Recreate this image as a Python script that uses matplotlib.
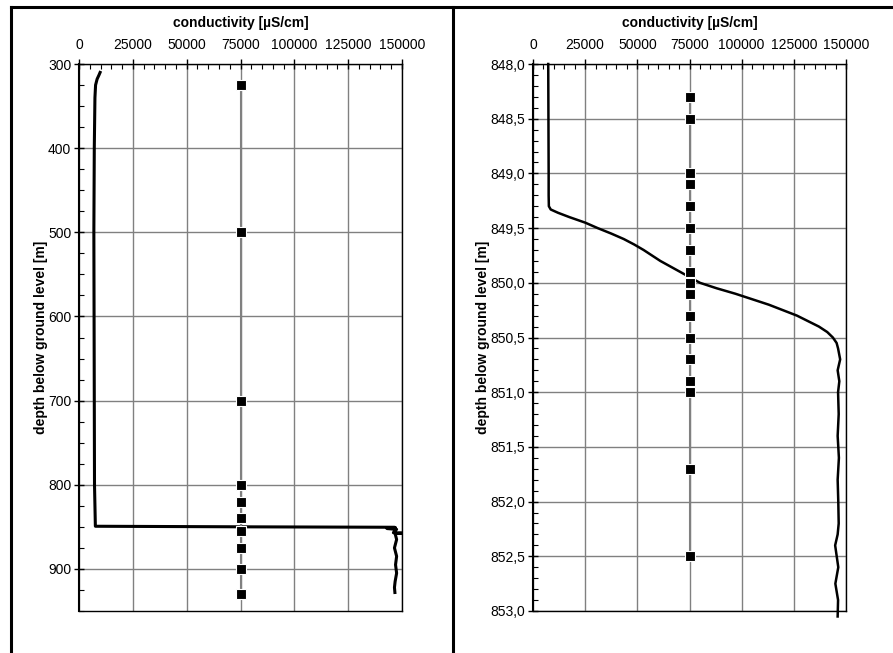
import numpy as np
import matplotlib.pyplot as plt
from matplotlib.lines import Line2D
from matplotlib.ticker import MultipleLocator, FuncFormatter

plt.rcParams['font.family'] = ['Liberation Sans', 'DejaVu Sans']

# left panel: full borehole profile
left_depth = [310, 313, 318, 325, 340, 400, 500, 600, 700, 800, 849.3, 850.0,
              850.5, 851, 852, 853, 855, 857, 857.5, 858, 865, 875, 885, 895,
              905, 915, 922, 928]
left_cond = [9800, 9300, 8400, 7700, 7400, 7100, 6900, 7000, 7100, 7200, 7600, 80000,
             146500, 147000, 143000, 147500, 146500, 146000, 150000, 146800, 147500, 146500, 147500, 147000,
             147500, 146800, 146500, 146700]
left_sample_depth = [325, 500, 700, 800, 820, 840, 855, 875, 900, 930]

# right panel: detail of the transition zone
right_depth = [848.0, 848.5, 849.0, 849.2, 849.3, 849.33, 849.36, 849.4, 849.45, 849.5,
               849.55, 849.6, 849.65, 849.7, 849.75, 849.8, 849.9, 850.0, 850.05, 850.1,
               850.2, 850.3, 850.4, 850.45, 850.5, 850.55, 850.6, 850.7, 850.8, 850.9,
               851.0, 851.2, 851.4, 851.6, 851.8, 852.0, 852.2, 852.3, 852.4, 852.6,
               852.75, 852.9, 853.05]
right_cond = [7300, 7400, 7500, 7500, 7600, 8500, 12000, 17500, 25000, 31000,
              37500, 43500, 48500, 53000, 57000, 61000, 70500, 80000, 88000, 97000,
              113000, 126500, 137000, 141000, 143700, 145500, 146200, 147200, 146000, 146800,
              146200, 146500, 146000, 146600, 146000, 146300, 146500, 146000, 144800, 146300,
              144900, 146200, 146000]
right_sample_depth = [848.3, 848.5, 849.0, 849.1, 849.3, 849.5, 849.7, 849.9, 850.0, 850.1,
                      850.3, 850.5, 850.7, 850.9, 851.0, 851.7, 852.5]
sample_cond = 75000

W, H = 893, 653
fig = plt.figure(figsize=(W / 100, H / 100), dpi=100)


def px_axes(x0, x1, y0, y1):
    return fig.add_axes([x0 / W, 1 - y1 / H, (x1 - x0) / W, (y1 - y0) / H])


def style(ax, ylim, ymajor, yminor, fmt):
    ax.set_xlim(0, 150000)
    ax.set_ylim(*ylim)
    ax.xaxis.tick_top()
    ax.xaxis.set_label_position('top')
    ax.xaxis.set_major_locator(MultipleLocator(25000))
    ax.xaxis.set_minor_locator(MultipleLocator(5000))
    ax.yaxis.set_major_locator(MultipleLocator(ymajor))
    ax.yaxis.set_minor_locator(MultipleLocator(yminor))
    ax.yaxis.set_major_formatter(FuncFormatter(fmt))
    ax.tick_params(which='major', direction='inout', length=7, width=1, labelsize=10, pad=2)
    ax.tick_params(axis='x', which='major', pad=5)
    ax.tick_params(which='minor', direction='in', length=3.5, width=0.8)
    ax.tick_params(axis='x', which='both', top=True, bottom=False)
    ax.grid(True, which='major', color='#808080', lw=1)
    ax.set_axisbelow(True)
    for s in ax.spines.values():
        s.set_color('black')
        s.set_linewidth(1)
    ax.spines['left'].set_linewidth(1.5)
    ax.set_xlabel('conductivity [µS/cm]', fontsize=10, fontweight='bold', labelpad=8)
    ax.set_ylabel('depth below ground level [m]', fontsize=10, fontweight='bold', labelpad=0)


ax1 = px_axes(79, 402, 64, 611)
style(ax1, (950, 300), 100, 25, lambda v, p: f'{v:.0f}')
ax1.plot(left_cond, left_depth, color='black', lw=2.2, zorder=3)
ax1.plot([sample_cond] * len(left_sample_depth), left_sample_depth, color='#808080', lw=1.5,
         marker='s', ms=7, mfc='black', mec='white', mew=0.8, zorder=4)

ax2 = px_axes(533, 846, 64, 611)
style(ax2, (853, 848), 0.5, 0.1, lambda v, p: f'{v:.1f}'.replace('.', ','))
ax2.plot(right_cond, right_depth, color='black', lw=1.8, zorder=3, clip_on=False)
ax2.plot([sample_cond] * len(right_sample_depth), right_sample_depth, color='#808080', lw=1.5,
         marker='s', ms=7, mfc='black', mec='white', mew=0.8, zorder=4)

# panel frame
for xs, ys in [([11, 893], [7, 7]), ([11, 11], [7, 653]), ([453, 453], [7, 653])]:
    fig.add_artist(Line2D([x / W for x in xs], [1 - y / H for y in ys], color='black', lw=2.2))

fig.savefig('out.png', dpi=100)
